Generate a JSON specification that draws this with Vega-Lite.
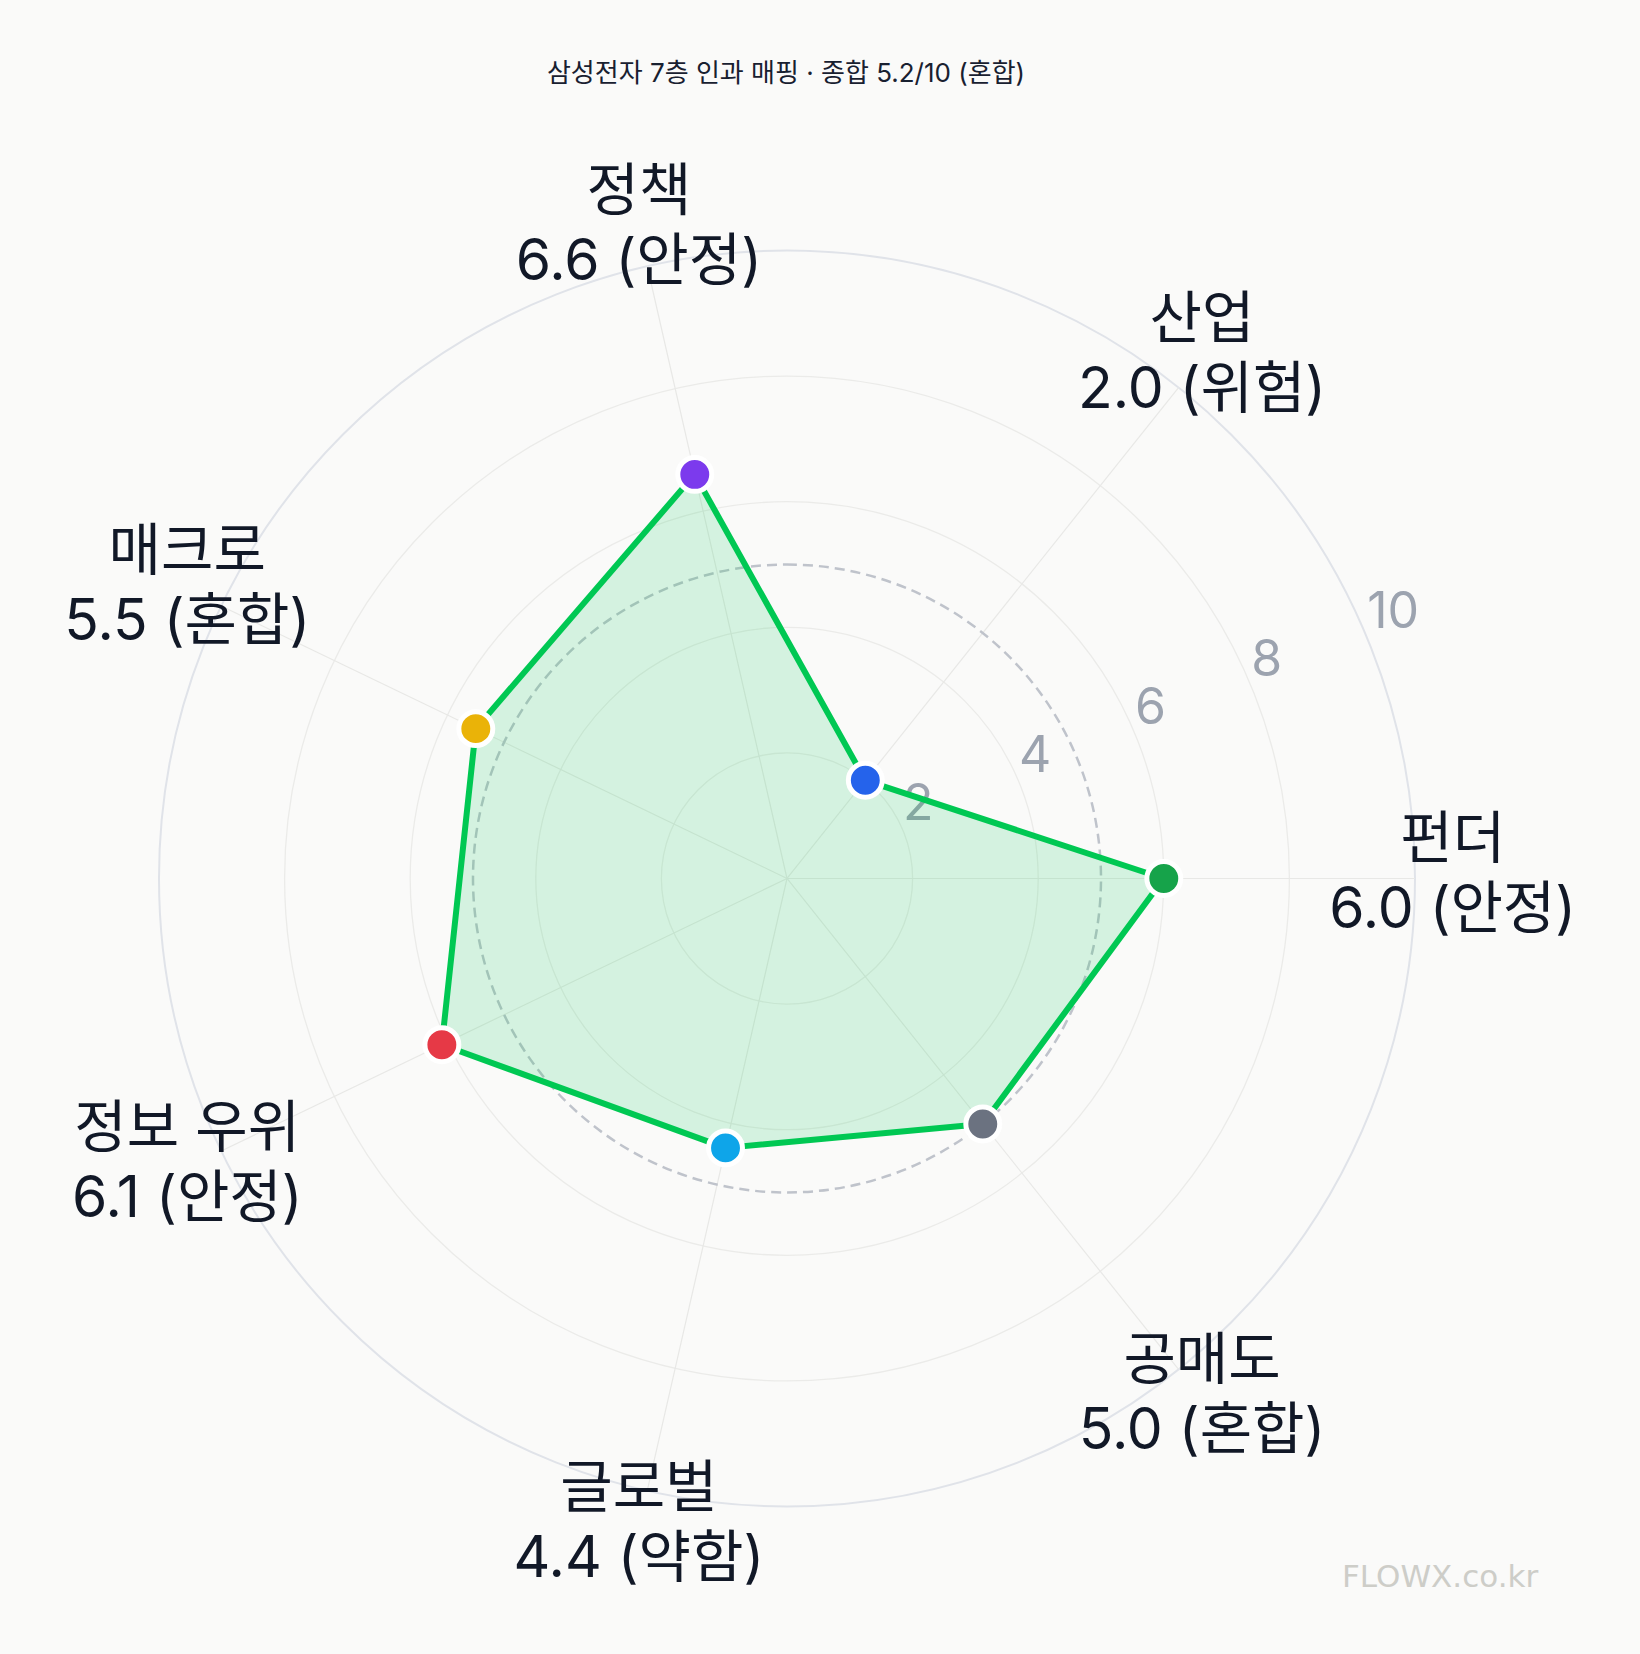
{
  "$schema": "https://vega.github.io/schema/vega-lite/v6.json",
  "width": 1640,
  "height": 1654,
  "padding": 0,
  "autosize": {"type": "none"},
  "background": "#fafaf9",
  "config": {"view": {"stroke": null}, "font": "Inter, Noto Sans CJK KR"},
  "title": {
    "text": "삼성전자 7층 인과 매핑 · 종합 5.2/10 (혼합)",
    "anchor": "middle",
    "frame": "group",
    "offset": -100,
    "baseline": "middle",
    "dx": -34,
    "fontSize": 26,
    "fontWeight": "normal",
    "color": "#182030",
    "font": "Inter, Noto Sans CJK KR"
  },
  "datasets": {
    "axes": [
      {"axis": "펀더", "score": 6.0, "status": "안정"},
      {"axis": "산업", "score": 2.0, "status": "위험"},
      {"axis": "정책", "score": 6.6, "status": "안정"},
      {"axis": "매크로", "score": 5.5, "status": "혼합"},
      {"axis": "정보 우위", "score": 6.1, "status": "안정"},
      {"axis": "글로벌", "score": 4.4, "status": "약함"},
      {"axis": "공매도", "score": 5.0, "status": "혼합"}
    ],
    "rings": [{"r": 2}, {"r": 4}, {"r": 6}, {"r": 8}, {"r": 10}],
    "threshold": [{"r": 5}],
    "brand": [{"text": "FLOWX.co.kr", "bx": 10.4, "by": -11.14}]
  },
  "layer": [
    {
      "data": {"name": "rings"},
      "mark": {"type": "arc", "theta": 0, "theta2": 6.2832, "filled": false},
      "encoding": {
        "x": {"datum": 0, "type": "quantitative", "scale": {"domain": [-12.532, 13.583], "nice": false, "zero": false}, "axis": null},
        "y": {"datum": 0, "type": "quantitative", "scale": {"domain": [-12.349, 13.989], "nice": false, "zero": false}, "axis": null},
        "radius": {"field": "r", "type": "quantitative", "stack": null, "scale": {"type": "linear", "domain": [0, 10], "range": [0, 628], "zero": true}, "legend": null},
        "stroke": {"condition": {"test": "datum.r === 10", "value": "#e0e3e9"}, "value": "#ebebe9"},
        "strokeWidth": {"condition": {"test": "datum.r === 10", "value": 2}, "value": 1.3}
      }
    },
    {
      "data": {"name": "axes"},
      "transform": [
        {"window": [{"op": "row_number", "as": "k"}]},
        {"calculate": "(datum.k - 1) * 2 * PI / 7", "as": "ang"},
        {"calculate": "10 * cos(datum.ang)", "as": "ex"},
        {"calculate": "10 * sin(datum.ang)", "as": "ey"}
      ],
      "mark": {"type": "rule", "stroke": "#e8e8e6", "strokeWidth": 1.2},
      "encoding": {
        "x": {"field": "ex", "type": "quantitative"},
        "y": {"field": "ey", "type": "quantitative"},
        "x2": {"datum": 0},
        "y2": {"datum": 0}
      }
    },
    {
      "data": {"name": "threshold"},
      "mark": {"type": "arc", "theta": 0, "theta2": 6.2832, "filled": false, "stroke": "#bfc3cb", "strokeWidth": 2.5, "strokeDash": [10, 6]},
      "encoding": {
        "x": {"datum": 0, "type": "quantitative"},
        "y": {"datum": 0, "type": "quantitative"},
        "radius": {"field": "r", "type": "quantitative", "stack": null}
      }
    },
    {
      "data": {"name": "rings"},
      "transform": [
        {"calculate": "datum.r * cos(PI / 8)", "as": "tx"},
        {"calculate": "datum.r * sin(PI / 8)", "as": "ty"}
      ],
      "mark": {"type": "text", "align": "left", "baseline": "bottom", "fontSize": 50, "fill": "#9ca3af", "font": "Inter, Noto Sans CJK KR"},
      "encoding": {
        "x": {"field": "tx", "type": "quantitative"},
        "y": {"field": "ty", "type": "quantitative"},
        "text": {"field": "r", "type": "quantitative"}
      }
    },
    {
      "data": {"name": "axes"},
      "transform": [
        {"window": [{"op": "row_number", "as": "k"}]},
        {"calculate": "(datum.k - 1) * 2 * PI / 7", "as": "ang"},
        {"calculate": "datum.score * cos(datum.ang)", "as": "px"},
        {"calculate": "datum.score * sin(datum.ang)", "as": "py"}
      ],
      "mark": {"type": "line", "interpolate": "linear-closed", "fill": "#00c853", "fillOpacity": 0.15, "stroke": "#00c853", "strokeWidth": 6, "strokeJoin": "round"},
      "encoding": {
        "x": {"field": "px", "type": "quantitative"},
        "y": {"field": "py", "type": "quantitative"},
        "order": {"field": "k", "type": "quantitative"}
      }
    },
    {
      "data": {"name": "axes"},
      "transform": [
        {"window": [{"op": "row_number", "as": "k"}]},
        {"calculate": "(datum.k - 1) * 2 * PI / 7", "as": "ang"},
        {"calculate": "datum.score * cos(datum.ang)", "as": "px"},
        {"calculate": "datum.score * sin(datum.ang)", "as": "py"}
      ],
      "mark": {"type": "point", "shape": "circle", "filled": true, "size": 1150, "stroke": "#ffffff", "strokeWidth": 5, "opacity": 1},
      "encoding": {
        "x": {"field": "px", "type": "quantitative"},
        "y": {"field": "py", "type": "quantitative"},
        "color": {
          "field": "axis",
          "type": "nominal",
          "scale": {
            "domain": ["펀더", "산업", "정책", "매크로", "정보 우위", "글로벌", "공매도"],
            "range": ["#16a34a", "#2563eb", "#7c3aed", "#eab308", "#e63946", "#0ea5e9", "#6b7280"]
          },
          "legend": null
        }
      }
    },
    {
      "data": {"name": "axes"},
      "transform": [
        {"window": [{"op": "row_number", "as": "k"}]},
        {"calculate": "(datum.k - 1) * 2 * PI / 7", "as": "ang"},
        {"calculate": "10.6 * cos(datum.ang)", "as": "lx"},
        {"calculate": "10.6 * sin(datum.ang)", "as": "ly"},
        {"calculate": "datum.axis + '\\n' + format(datum.score, '.1f') + ' (' + datum.status + ')'", "as": "label"}
      ],
      "mark": {"type": "text", "align": "center", "baseline": "middle", "dy": -37, "fontSize": 57, "lineHeight": 70, "lineBreak": "\n", "fill": "#111827", "font": "Inter, Noto Sans CJK KR"},
      "encoding": {
        "x": {"field": "lx", "type": "quantitative"},
        "y": {"field": "ly", "type": "quantitative"},
        "text": {"field": "label", "type": "nominal"}
      }
    },
    {
      "data": {"name": "brand"},
      "mark": {"type": "text", "align": "center", "baseline": "middle", "fontSize": 31, "fill": "#cdcdc8", "font": "DejaVu Sans"},
      "encoding": {
        "x": {"field": "bx", "type": "quantitative"},
        "y": {"field": "by", "type": "quantitative"},
        "text": {"field": "text", "type": "nominal"}
      }
    }
  ]
}
